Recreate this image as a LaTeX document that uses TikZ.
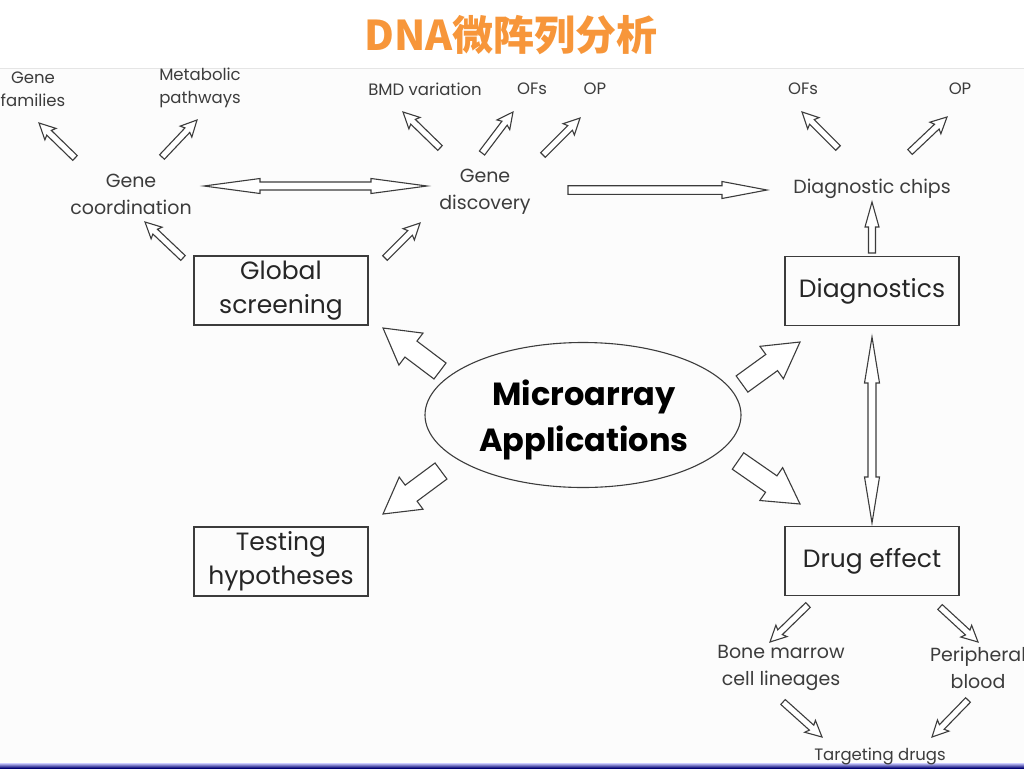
\documentclass[tikz,border=0pt]{standalone}
\usepackage{fontspec}
\setmainfont{Poppins}
\newfontfamily\cjk{Noto Sans CJK SC}
\usetikzlibrary{calc,shapes.geometric}
\definecolor{ttl}{RGB}{247,150,58}
\definecolor{ink}{RGB}{60,60,60}
\definecolor{bgc}{RGB}{252,252,252}
\tikzset{
  blk/.style={draw=ink,line width=1.1pt,fill=white,line join=miter},
  lbl/.style={inner sep=0pt,align=center,text=ink,font=\fontsize{16.5}{23}\selectfont},
  mid/.style={inner sep=0pt,align=center,text=ink,font=\fontsize{19}{27}\selectfont},
  boxnode/.style={draw=ink,line width=1.3pt,minimum width=174pt,minimum height=69pt,inner sep=0pt,align=center,text=black!85,font=\fontsize{25}{34}\selectfont},
}
% single block arrow: [style]{start}{end}{w}{h}{L}{sweep}
\newcommand{\barr}[7][]{%
  \coordinate (bA) at #2; \coordinate (bB) at #3;
  \coordinate (bC) at ($(bB)!#6!(bA)$);
  \coordinate (bD) at ($(bB)!#6+#7!(bA)$);
  \draw[blk,#1] ($(bA)!#4!90:(bB)$) -- ($(bC)!#4!-90:(bA)$) -- ($(bD)!#5!-90:(bA)$) -- (bB)
     -- ($(bD)!#5!90:(bA)$) -- ($(bC)!#4!90:(bA)$) -- ($(bA)!#4!-90:(bB)$) -- cycle;}
% double block arrow: [style]{start}{end}{w}{h}{L}
\newcommand{\darr}[6][]{%
  \coordinate (bA) at #2; \coordinate (bB) at #3;
  \coordinate (bC) at ($(bA)!#6!(bB)$);
  \coordinate (bD) at ($(bB)!#6!(bA)$);
  \draw[blk,#1] (bA) -- ($(bC)!#5!90:(bB)$) -- ($(bC)!#4!90:(bB)$) -- ($(bD)!#4!-90:(bA)$)
     -- ($(bD)!#5!-90:(bA)$) -- (bB) -- ($(bD)!#5!90:(bA)$) -- ($(bD)!#4!90:(bA)$)
     -- ($(bC)!#4!-90:(bB)$) -- ($(bC)!#5!-90:(bB)$) -- cycle;}
\begin{document}
\begin{tikzpicture}[x=1pt,y=-1pt]
\useasboundingbox (0,0) rectangle (1024,768);
\fill[bgc] (0,0) rectangle (1024,768);
\fill[white] (0,0) rectangle (1024,68);
\draw[black!10,line width=0.8pt] (0,68.5) -- (1024,68.5);
\shade[top color=blue!20,bottom color=blue!45!black] (0,763) rectangle (1024,768);

\node[inner sep=0pt,text=ttl,font=\cjk\bfseries\fontsize{41}{44}\selectfont] (title) at (511,35) {DNA微阵列分析};

% labels
\node[lbl] (genefam) at (33,89) {Gene\\families};
\node[lbl] (metab) at (200,88) {Metabolic\\pathways};
\node[lbl] (bmd) at (425,89) {BMD variation};
\node[lbl] (ofsa) at (532,89) {OFs};
\node[lbl] (opa) at (595,89) {OP};
\node[lbl] (ofsb) at (803,89) {OFs};
\node[lbl] (opb) at (960,89) {OP};
\node[mid] (genecoord) at (131,194) {Gene\\coordination};
\node[mid] (genedisc) at (485,192) {Gene\\discovery};
\node[mid] (diagchips) at (872,189) {Diagnostic chips};

\node[boxnode] (global) at (281,290.5) {Global\\screening};
\node[boxnode] (diag) at (872,291) {Diagnostics};
\node[boxnode] (testing) at (281,561.5) {Testing\\hypotheses};
\node[boxnode] (drug) at (872,561) {Drug effect};

\node[ellipse,draw=ink,line width=1.1pt,minimum width=316pt,minimum height=145pt,inner sep=0pt] (micro) at (583,415) {};
\node[inner sep=0pt,align=center,font=\bfseries\fontsize{32}{46}\selectfont] (microtext) at (584,420) {Microarray\\Applications};

\node[mid] (bone) at (781,668) {Bone marrow\\cell lineages};
\node[mid] (periph) at (978,668) {Peripheral\\blood};
\node[lbl] (target) at (880,756) {Targeting drugs};

% big arrows around ellipse
\barr{(440,371)}{(383,328)}{10pt}{20pt}{35pt}{0pt}
\barr{(742,384)}{(800,342)}{10pt}{20pt}{35pt}{0pt}
\barr{(441,471)}{(383,514)}{10pt}{20pt}{35pt}{0pt}
\barr{(738,461)}{(800,504)}{10pt}{20pt}{35pt}{0pt}

% small arrows
\barr{(75,158)}{(39,123)}{3.3pt}{8pt}{14pt}{2pt}
\barr{(162,157)}{(197,120)}{3.3pt}{8pt}{14pt}{2pt}
\barr{(183,258)}{(145,222)}{3.3pt}{8pt}{14pt}{2pt}
\barr{(385,258)}{(420,223)}{3.3pt}{8pt}{14pt}{2pt}
\barr{(440,148)}{(403,112)}{3.3pt}{8pt}{14pt}{2pt}
\barr{(482,153)}{(513,112)}{3.3pt}{8pt}{14pt}{2pt}
\barr{(543,155)}{(580,118)}{3.3pt}{8pt}{14pt}{2pt}
\barr{(838,148)}{(802,112)}{3.3pt}{8pt}{14pt}{2pt}
\barr{(910,152)}{(947,117)}{3.3pt}{8pt}{14pt}{2pt}
\barr{(808,605)}{(770,642)}{3.3pt}{8pt}{14pt}{2pt}
\barr{(940,607)}{(978,642)}{3.3pt}{8pt}{14pt}{2pt}
\barr{(783,702)}{(822,737)}{3.3pt}{8pt}{14pt}{2pt}
\barr{(968,700)}{(932,737)}{3.3pt}{8pt}{14pt}{2pt}

% long arrows
\darr{(204,186)}{(427,186)}{4pt}{7.5pt}{56pt}
\barr{(568,190)}{(767,190)}{4.3pt}{8.5pt}{45pt}{0pt}
\barr{(872,253)}{(872,202)}{3.5pt}{7pt}{25pt}{0pt}
\darr{(872,337)}{(872,523)}{4pt}{7.5pt}{46pt}
\end{tikzpicture}
\end{document}
